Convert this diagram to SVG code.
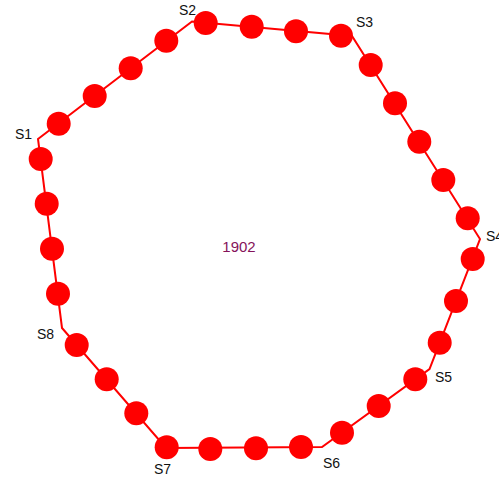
<svg xmlns="http://www.w3.org/2000/svg" width="499" height="481" viewBox="0 0 499 481">
<style>
.edge{fill:none;stroke:#ff0000;stroke-width:2;stroke-linejoin:miter}
.dot{fill:#ff0000}
.lbl{font-family:"Liberation Sans",Arial,sans-serif;font-size:14px;fill:#111}
.title{font-family:"Liberation Sans",Arial,sans-serif;font-size:15px;fill:#85135a}
</style>
<rect width="499" height="481" fill="#ffffff"/>
<g id="connectors">
<polygon class="edge" points="38,139 192,21.5 352,36 480,239 429.5,369 322,447 166,448 62,328"/>
</g>
<g id="points">
<circle class="dot" cx="40.7" cy="159" r="12"/>
<circle class="dot" cx="58.7" cy="123.7" r="12"/>
<circle class="dot" cx="94.7" cy="96" r="12"/>
<circle class="dot" cx="130.7" cy="68.3" r="12"/>
<circle class="dot" cx="166.3" cy="40.7" r="12"/>
<circle class="dot" cx="205.7" cy="23" r="12"/>
<circle class="dot" cx="251.7" cy="26.7" r="12"/>
<circle class="dot" cx="296" cy="31.3" r="12"/>
<circle class="dot" cx="341" cy="35.7" r="12"/>
<circle class="dot" cx="370.7" cy="65" r="12"/>
<circle class="dot" cx="395" cy="103.3" r="12"/>
<circle class="dot" cx="419.3" cy="141.7" r="12"/>
<circle class="dot" cx="443.3" cy="180" r="12"/>
<circle class="dot" cx="467.7" cy="218.3" r="12"/>
<circle class="dot" cx="472.7" cy="259" r="12"/>
<circle class="dot" cx="456" cy="301" r="12"/>
<circle class="dot" cx="439.7" cy="342.7" r="12"/>
<circle class="dot" cx="415.3" cy="379.3" r="12"/>
<circle class="dot" cx="378.7" cy="406" r="12"/>
<circle class="dot" cx="342" cy="432.7" r="12"/>
<circle class="dot" cx="301" cy="447" r="12"/>
<circle class="dot" cx="256" cy="448.3" r="12"/>
<circle class="dot" cx="210.3" cy="449" r="12"/>
<circle class="dot" cx="166.7" cy="447.3" r="12"/>
<circle class="dot" cx="136.3" cy="413.3" r="12"/>
<circle class="dot" cx="106.7" cy="379.3" r="12"/>
<circle class="dot" cx="76.7" cy="345" r="12"/>
<circle class="dot" cx="58" cy="293.7" r="12"/>
<circle class="dot" cx="52" cy="248.7" r="12"/>
<circle class="dot" cx="46.7" cy="203.7" r="12"/>
</g>
<g id="S1"><text class="lbl" x="15" y="139">S1</text></g>
<g id="S2"><text class="lbl" x="179" y="15">S2</text></g>
<g id="S3"><text class="lbl" x="356" y="27">S3</text></g>
<g id="S4"><text class="lbl" x="486" y="241">S4</text></g>
<g id="S5"><text class="lbl" x="435" y="382">S5</text></g>
<g id="S6"><text class="lbl" x="323" y="468">S6</text></g>
<g id="S7"><text class="lbl" x="154" y="474">S7</text></g>
<g id="S8"><text class="lbl" x="37" y="339">S8</text></g>
<g id="center"><text class="title" x="239" y="252" text-anchor="middle">1902</text></g>
</svg>
